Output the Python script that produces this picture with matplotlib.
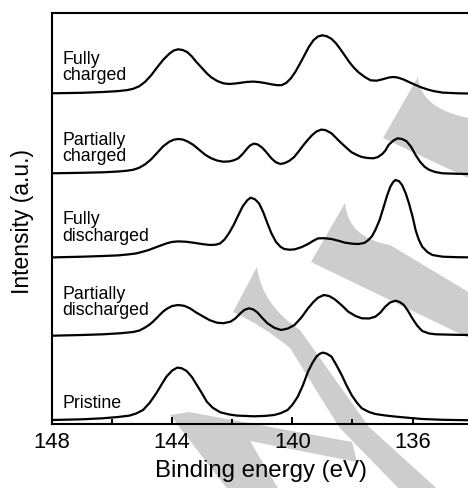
import matplotlib.pyplot as plt
from matplotlib.patches import PathPatch
from matplotlib.path import Path
from matplotlib.ticker import MultipleLocator

plt.rcParams['font.family'] = ['Liberation Sans', 'DejaVu Sans']

W, H = 468, 488

# spectra: binding energy (eV) and intensity (a.u., above own baseline)
fc_be = [148.0, 147.0, 146.3, 145.8, 145.5, 145.3, 145.1, 144.9, 144.7, 144.5,
         144.3, 144.1, 143.95, 143.8, 143.65, 143.5, 143.35, 143.2, 143.0, 142.85,
         142.7, 142.5, 142.3, 142.1, 141.9, 141.7, 141.5, 141.3, 141.1, 140.9,
         140.7, 140.5, 140.35, 140.2, 140.05, 139.9, 139.75, 139.6, 139.45, 139.3,
         139.15, 139.0, 138.85, 138.7, 138.55, 138.4, 138.25, 138.1, 137.95, 137.8,
         137.6, 137.4, 137.2, 137.0, 136.8, 136.65, 136.5, 136.3, 136.1, 135.9,
         135.7, 135.5, 135.3, 135.0, 134.5, 134.0]
fc_int = [0, 0.5, 1.3, 2.2, 3.2, 4.5, 7, 11.5, 18, 26,
          33.5, 39.5, 42.8, 44, 43.3, 41.2, 37, 31.5, 25, 20,
          16, 12.3, 10, 9.3, 9.8, 10.6, 11.4, 11.7, 11.2, 10.2,
          9.0, 8.1, 8.2, 10.5, 15, 21.5, 29.5, 38, 46.5, 53,
          56.8, 58, 57, 54.5, 50, 44, 37.5, 31, 25.5, 21,
          16.5, 13.0, 12.6, 14, 15.7, 16.3, 15.8, 13.8, 11, 8.3,
          5.8, 3.8, 2.2, 0.7, 0, -0.3]

pc_be = [148.0, 147.0, 146.3, 145.8, 145.5, 145.3, 145.1, 144.9, 144.7, 144.5,
         144.3, 144.1, 143.95, 143.8, 143.65, 143.5, 143.3, 143.1, 142.9, 142.7,
         142.5, 142.3, 142.1, 141.95, 141.8, 141.65, 141.5, 141.4, 141.28, 141.15,
         141.0, 140.85, 140.7, 140.55, 140.4, 140.25, 140.1, 139.95, 139.8, 139.65,
         139.5, 139.35, 139.2, 139.04, 138.9, 138.7, 138.55, 138.4, 138.2, 138.03,
         137.85, 137.69, 137.5, 137.3, 137.15, 137.0, 136.9, 136.8, 136.65, 136.5,
         136.35, 136.2, 136.05, 135.9, 135.75, 135.6, 135.45, 135.25, 135.0, 134.5,
         134.0]
pc_int = [0, 0.5, 1, 1.8, 2.6, 3.5, 5.5, 9, 14, 20.5,
          27, 31.5, 33.6, 34.3, 33.8, 32, 28.5, 23.5, 18.5, 15,
          12.7, 11.6, 11.9, 13, 15, 19.5, 25, 28, 29.7, 28.8,
          25.5, 20.5, 15, 11, 9.3, 10.3, 12.5, 16, 21.5, 27.5,
          33, 38, 41.8, 43.7, 43.2, 40, 35.5, 31, 25.5, 21,
          18.3, 16.3, 15.3, 15, 16.3, 19.5, 23, 28.3, 32.5, 35,
          34.3, 32, 26.5, 18.3, 11.5, 6.5, 3.5, 1.3, 0, -0.5,
          -0.7]

fd_be = [148.0, 147.0, 146.3, 145.8, 145.4, 145.2, 145.0, 144.8, 144.64, 144.4,
         144.19, 144.0, 143.8, 143.55, 143.29, 143.0, 142.73, 142.55, 142.4, 142.25,
         142.1, 141.95, 141.8, 141.65, 141.5, 141.39, 141.25, 141.11, 140.97, 140.83,
         140.7, 140.55, 140.4, 140.27, 140.1, 139.93, 139.7, 139.48, 139.3, 139.15,
         138.95, 138.7, 138.45, 138.25, 138.0, 137.8, 137.6, 137.47, 137.35, 137.24,
         137.1, 136.96, 136.85, 136.74, 136.65, 136.57, 136.45, 136.35, 136.23, 136.12,
         136.0, 135.9, 135.8, 135.68, 135.5, 135.34, 135.0, 134.5, 134.0]
fd_int = [-0.7, 0, 0.7, 1.3, 2.5, 3.3, 4.8, 6.5, 8.3, 11,
          13.3, 14.8, 15.3, 15, 14, 12.6, 11.7, 12, 13.3, 17.5,
          24, 32, 41.5, 50.5, 56.5, 59, 57.5, 53.3, 44.5, 33.3,
          23.5, 15, 10, 7.7, 7, 7.3, 9.5, 12.7, 16, 18.3,
          18.5, 17.7, 15.8, 14, 13, 12.7, 13.8, 16.7, 20.5, 26.7,
          36.5, 50, 61, 70, 74.5, 76.7, 75.5, 71.7, 63.5, 53.3,
          40, 26.7, 17.5, 10, 4.5, 1.7, 0, -0.5, -0.7]

pd_be = [148.0, 147.0, 146.3, 145.7, 145.3, 145.09, 144.9, 144.75, 144.64, 144.45,
         144.3, 144.19, 144.0, 143.8, 143.6, 143.41, 143.2, 142.96, 142.75, 142.51,
         142.3, 142.06, 141.9, 141.73, 141.6, 141.45, 141.3, 141.17, 141.0, 140.83,
         140.6, 140.38, 140.15, 139.93, 139.7, 139.48, 139.3, 139.15, 138.95, 138.78,
         138.59, 138.35, 138.14, 137.9, 137.69, 137.45, 137.24, 137.07, 136.91, 136.75,
         136.57, 136.43, 136.29, 136.15, 136.01, 135.85, 135.68, 135.45, 135.23, 134.6,
         134.0]
pd_int = [-0.7, 0, 0.7, 1.8, 3, 4.5, 7.5, 10.5, 13.3, 19,
          23.5, 26, 29, 30, 29.2, 26.7, 22.5, 18.3, 14.8, 12.3,
          11.8, 13.3, 16.5, 21.7, 25, 26.7, 25.5, 22.7, 17, 11.7,
          7.2, 5, 6.5, 10, 17.5, 26.7, 33, 37.3, 40, 39,
          35.7, 29.5, 23.3, 19, 16.7, 16.5, 18.3, 22.5, 28.3, 32.5,
          34.3, 33, 30, 24, 16.7, 9.5, 4, 1.5, 0.7, 0.2,
          0]

pr_be = [148.0, 147.0, 146.32, 145.8, 145.42, 145.2, 144.97, 144.75, 144.53, 144.35,
         144.19, 144.0, 143.83, 143.68, 143.52, 143.35, 143.18, 143.0, 142.85, 142.65,
         142.4, 142.1, 141.84, 141.28, 140.9, 140.61, 140.4, 140.16, 140.0, 139.82,
         139.65, 139.48, 139.33, 139.2, 139.08, 138.98, 138.85, 138.7, 138.55, 138.36,
         138.2, 138.03, 137.85, 137.69, 137.45, 137.24, 136.9, 136.57, 136.1, 135.68,
         135.0, 134.0]
pr_int = [0.3, 1, 2, 3.3, 4.7, 6.8, 10.3, 17.5, 27, 36,
          43.7, 49.8, 52.7, 52, 49.3, 43.5, 35.3, 26.5, 18.7, 12.5,
          8, 5.8, 4.7, 4, 4.4, 5.3, 7, 10.3, 15.5, 23.7,
          35, 48.7, 57.5, 63.7, 66.7, 67.7, 66.5, 63.7, 56, 45.3,
          35, 25.3, 17.5, 12, 8.3, 6.3, 4.8, 3.7, 2.4, 1.3,
          0.5, 0]

names = ['Fully\ncharged', 'Partially\ncharged', 'Fully\ndischarged',
         'Partially\ndischarged', 'Pristine']
spectra = [(fc_be, fc_int), (pc_be, pc_int), (fd_be, fd_int), (pd_be, pd_int), (pr_be, pr_int)]
offsets = [330.7, 250.7, 167.3, 89.0, 3.7]


def px(x, y):
    return (x / W, 1 - y / H)


fig = plt.figure(figsize=(W / 100, H / 100), dpi=100)
ax = fig.add_axes([52 / W, 1 - 424 / H, 1 - 52 / W + 0.01, (424 - 13) / H])
ax.set_facecolor('none')

# grey arrows in the background (figure pixel coordinates)
grey = '#cdcdcd'
M, L, C, Z = Path.MOVETO, Path.LINETO, Path.CURVE3, Path.CLOSEPOLY
arrows = [
    ([(418, 77), (420, 108), (468, 118), (475, 121), (475, 181), (468, 178), (383, 138), (418, 77)],
     [M, C, C, L, L, L, L, Z]),
    ([(345, 203), (348, 238), (390, 245), (475, 296), (475, 341), (311, 262), (345, 203)],
     [M, C, C, L, L, L, Z]),
    ([(257, 267), (262, 305), (300, 330), (369, 427), (444, 495), (405, 495), (339, 427),
      (290, 348), (262, 325), (233, 312), (257, 267)],
     [M, C, C, L, L, L, L, L, C, C, Z]),
    ([(170, 415), (189, 412), (352, 442), (357, 462), (250, 441), (282, 495), (232, 495), (170, 415)],
     [M, L, L, L, L, L, L, Z]),
]
for verts, codes in arrows:
    p = Path([px(*v) for v in verts], codes)
    fig.patches.append(PathPatch(p, transform=fig.transFigure, facecolor=grey,
                                 edgecolor='none', zorder=-1))

for (be, inten), off in zip(spectra, offsets):
    ax.plot(be, [v + off for v in inten], color='black', lw=1.6,
            solid_joinstyle='round', solid_capstyle='round')

label_y = [424 - 80, 424 - 161, 424 - 240.7, 424 - 315, 424 - 408.3]
for name, y in zip(names, label_y):
    ax.text(147.66, y, name, fontsize=12.8, ha='left', va='baseline', linespacing=0.95)

ax.set_xlim(148, 134)
ax.set_ylim(0, 411)
ax.xaxis.set_major_locator(MultipleLocator(4))
ax.xaxis.set_minor_locator(MultipleLocator(2))
ax.set_yticks([])
ax.tick_params(axis='x', which='major', direction='in', length=5, width=1.4,
               labelsize=15.8, pad=6)
ax.tick_params(axis='x', which='minor', direction='in', length=3.5, width=1.4)
for side in ['left', 'top', 'bottom']:
    ax.spines[side].set_linewidth(1.5)
ax.spines['right'].set_visible(False)

fig.text(261 / W, 1 - 471.5 / H, 'Binding energy (eV)', fontsize=17.3, ha='center', va='center')
fig.text(23 / W, 1 - 222 / H, 'Intensity (a.u.)', fontsize=16.5, ha='center', va='center',
         rotation=90)

fig.savefig('out.png', dpi=100)
